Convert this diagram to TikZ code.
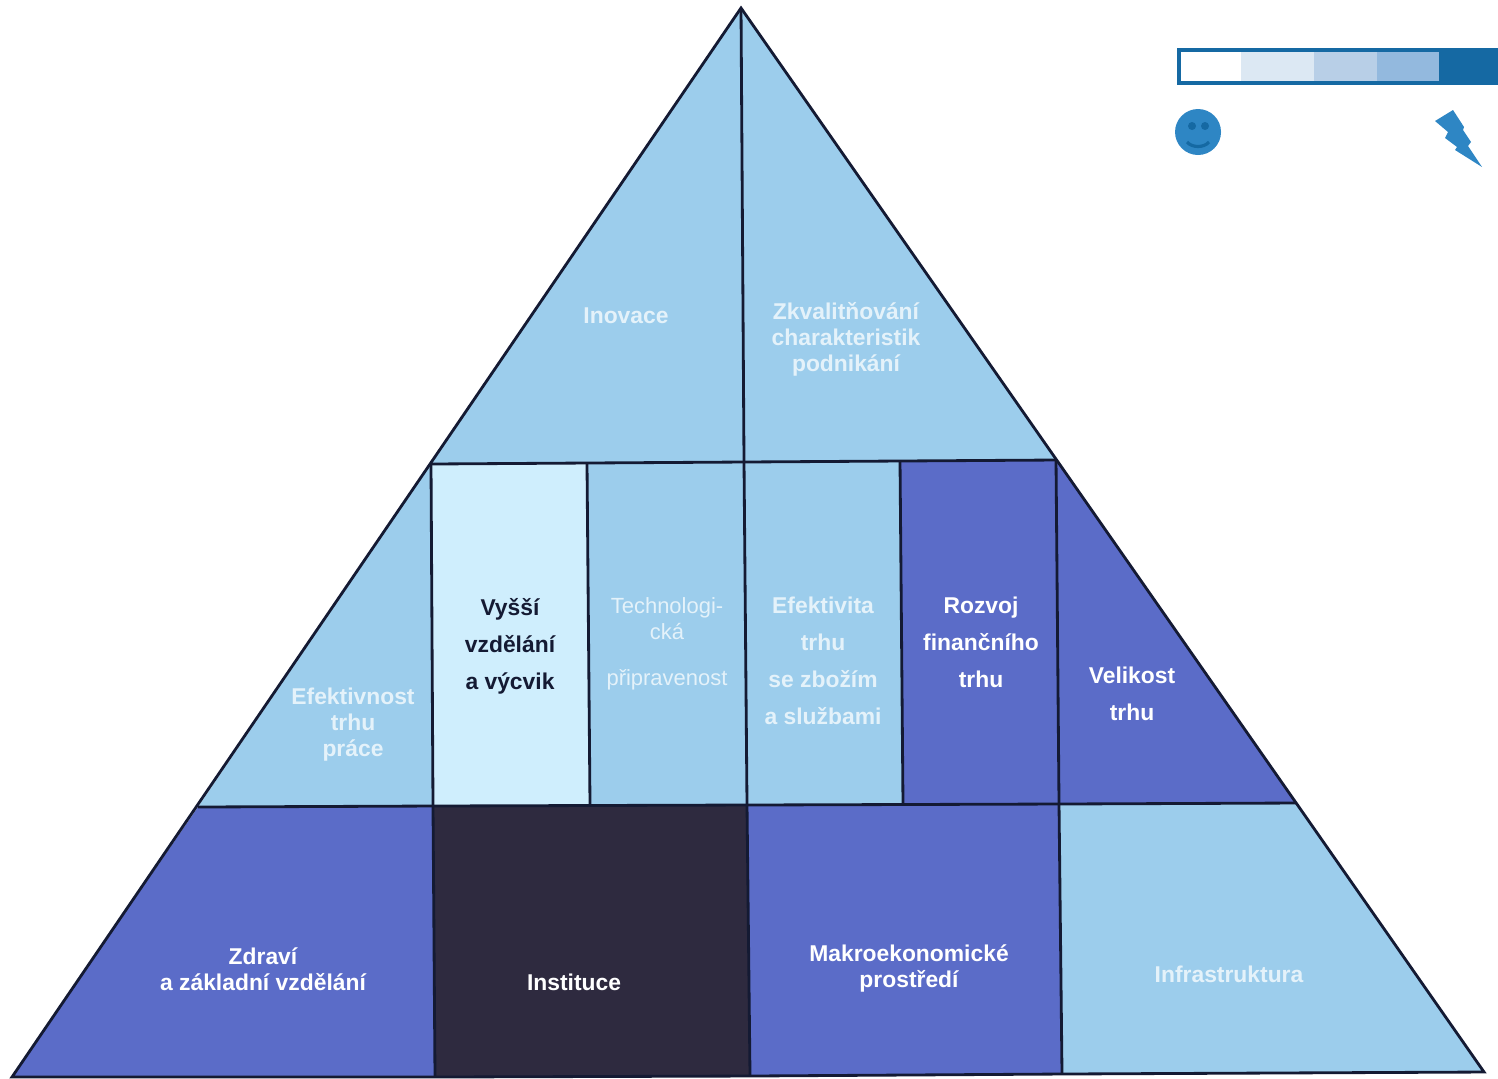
\documentclass[tikz,border=0pt]{standalone}
\usepackage{fontspec}
\setmainfont{Liberation Sans}
\usepackage{xcolor}
\definecolor{lightcell}{HTML}{9CCDEC}
\definecolor{palecell}{HTML}{CFEEFD}
\definecolor{midcell}{HTML}{5B6CC8}
\definecolor{darkcell}{HTML}{2E2A3F}
\definecolor{edgecolor}{HTML}{141A33}
\definecolor{scalecolor}{HTML}{1569A3}
\definecolor{scaleA}{HTML}{DCE8F3}
\definecolor{scaleB}{HTML}{B8CFE7}
\definecolor{scaleC}{HTML}{93B9DE}
\definecolor{iconcolor}{HTML}{2E86C4}
\definecolor{softwhite}{HTML}{E4F2FA}
\newcommand{\barT}{51}
\newcommand{\barB}{82}

\tikzset{
    cell/.style={font=\fontsize{6.5}{7.4}\selectfont\bfseries, align=center, inner sep=0pt},
    softcell/.style={cell, text=softwhite},
    brightcell/.style={cell, text=white},
    thincell/.style={cell, text=softwhite, font=\fontsize{6.25}{7.4}\selectfont},
    wideline/.style={cell, font=\fontsize{6.5}{10.5}\selectfont\bfseries}
}

\begin{document}
\begin{tikzpicture}[x=0.01cm, y=-0.01cm]
    \useasboundingbox (0, 0) rectangle (1498, 1078);
    \coordinate (apex) at (741, 8);
    \coordinate (baseL) at (12, 1077);
    \coordinate (baseR) at (1484, 1072);
    \coordinate (upL) at (431, 464);
    \coordinate (upM) at (744, 462);
    \coordinate (upR) at (1056, 460);
    \coordinate (lowL) at (198, 807);
    \coordinate (lowA) at (433, 806);
    \coordinate (lowB) at (590, 805);
    \coordinate (lowM) at (747, 805);
    \coordinate (lowC) at (903, 805);
    \coordinate (lowD) at (1059, 804);
    \coordinate (lowR) at (1296, 803);
    \coordinate (upB) at (587, 464);
    \coordinate (upC) at (900, 461);
    \coordinate (footA) at (435, 1077);
    \coordinate (footM) at (750, 1076);
    \coordinate (footD) at (1062, 1074);

    % color
    \fill[lightcell] (apex) -- (upM) -- (upL) -- cycle;
    \fill[lightcell] (apex) -- (upR) -- (upM) -- cycle;
    \fill[lightcell] (upL) -- (lowA) -- (lowL) -- cycle;
    \fill[palecell] (upL) -- (upB) -- (lowB) -- (lowA) -- cycle;
    \fill[lightcell] (upB) -- (upM) -- (lowM) -- (lowB) -- cycle;
    \fill[lightcell] (upM) -- (upC) -- (lowC) -- (lowM) -- cycle;
    \fill[midcell] (upC) -- (upR) -- (lowD) -- (lowC) -- cycle;
    \fill[midcell] (upR) -- (lowR) -- (lowD) -- cycle;
    \fill[midcell] (lowL) -- (lowA) -- (footA) -- (baseL) -- cycle;
    \fill[darkcell] (lowA) -- (lowM) -- (footM) -- (footA) -- cycle;
    \fill[midcell] (lowM) -- (lowD) -- (footD) -- (footM) -- cycle;
    \fill[lightcell] (lowD) -- (lowR) -- (baseR) -- (footD) -- cycle;

    % pyramid edges
    \draw[edgecolor, line width=0.8pt, line join=miter] (baseL) -- (apex) -- (baseR) -- (footD) -- (footM) -- (footA) -- cycle;
    \draw[edgecolor, line width=0.8pt] (apex) -- (upM) -- (lowM);
    \draw[edgecolor, line width=0.8pt] (upL) -- (upM) -- (upR);
    \draw[edgecolor, line width=0.8pt] (lowL) -- (lowA) -- (lowM) -- (lowD) -- (lowR);
    \draw[edgecolor, line width=0.8pt] (upL) -- (lowA) -- (footA);
    \draw[edgecolor, line width=0.8pt] (upB) -- (lowB);
    \draw[edgecolor, line width=0.8pt] (upC) -- (lowC);
    \draw[edgecolor, line width=0.8pt] (upR) -- (lowD) -- (footD);
    \draw[edgecolor, line width=0.8pt] (lowM) -- (footM);

    % labels
    \node[softcell] (inovace) at (626, 316) {Inovace};
    \node[softcell] (zkvalit) at (846, 339) {Zkvalitňování\\charakteristik\\podnikání};
    \node[softcell] (prace) at (353, 725) {Efektivnost\\trhu\\práce};
    \node[wideline, text=edgecolor] (vyssi) at (510, 646) {Vyšší\\vzdělání\\a výcvik};
    \node[thincell] (techno) at (667, 619) {Technologi-\\cká};
    \node[thincell] (pripr) at (667, 680) {připravenost};
    \node[wideline, text=softwhite] (zbozi) at (823, 661) {Efektivita\\trhu\\se zbožím\\a službami};
    \node[wideline, text=white] (finance) at (981, 642) {Rozvoj\\finančního\\trhu};
    \node[wideline, text=white] (velikost) at (1132, 694) {Velikost\\trhu};
    \node[brightcell] (zdravi) at (263, 969) {Zdraví\\a základní vzdělání};
    \node[brightcell] (instituce) at (574, 982) {Instituce};
    \node[brightcell] (makro) at (909, 968) {Makroekonomické\\prostředí};
    \node[softcell] (infra) at (1229, 974) {Infrastruktura};

    % scale bar
    \fill[white] (1179, \barT) rectangle (1241, \barB);
    \fill[scaleA] (1241, \barT) rectangle (1314, \barB);
    \fill[scaleB] (1314, \barT) rectangle (1377, \barB);
    \fill[scaleC] (1377, \barT) rectangle (1439, \barB);
    \fill[scalecolor] (1439, \barT) rectangle (1500, \barB);
    \draw[scalecolor, line width=1pt] (1500, 50) -- (1179, 50) -- (1179, 83) -- (1500, 83);

    % smiley
    \fill[iconcolor] (1198, 132) circle (23);
    \fill[scalecolor] (1192, 126) circle (4);
    \fill[scalecolor] (1205, 126) circle (4);
    \draw[scalecolor, line width=0.9pt] (1187, 142) .. controls (1192, 148) and (1204, 148) .. (1209, 142);

    % lightning
    \fill[iconcolor] (1435, 121) -- (1453, 110) -- (1464, 127) -- (1463, 130) -- (1471, 142) -- (1468, 146) -- (1482, 167) -- (1455, 150) -- (1457, 147) -- (1445, 138) -- (1448, 132) -- cycle;
\end{tikzpicture}
\end{document}
